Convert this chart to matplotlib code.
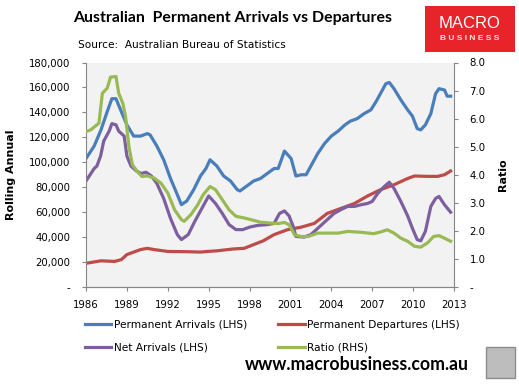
import matplotlib.pyplot as plt
from matplotlib.lines import Line2D
from matplotlib.patches import Rectangle
from matplotlib.ticker import FuncFormatter

# ---- data ----
arr_years = [1986.0, 1986.6, 1987.1, 1987.6, 1987.9, 1988.2, 1988.5, 1989.0, 1989.5,
             1990.0, 1990.5, 1990.7, 1991.2, 1991.7, 1992.2, 1992.7, 1993.0, 1993.4,
             1993.9, 1994.4, 1994.8, 1995.1, 1995.6, 1996.1, 1996.6, 1997.1, 1997.3,
             1997.8, 1998.3, 1998.8, 1999.3, 1999.8, 2000.1, 2000.3, 2000.56, 2000.8,
             2001.05, 2001.4, 2001.8, 2002.15, 2002.5, 2003.0, 2003.5, 2004.0, 2004.5,
             2005.0, 2005.4, 2005.9, 2006.4, 2006.9, 2007.3, 2007.6, 2008.0, 2008.25,
             2008.6, 2009.1, 2009.6, 2009.95, 2010.3, 2010.56, 2010.9, 2011.3, 2011.65,
             2011.9, 2012.3, 2012.5, 2012.75]
arrivals = [103, 113, 126, 142, 151, 151, 143, 130, 121,
            121, 123, 122, 113, 102, 87, 74, 66, 69,
            78, 89, 95, 102, 97, 89, 85, 78, 77,
            81, 85, 87, 91, 95, 95, 101, 109, 106,
            103, 89, 90, 90, 97, 107, 115, 121, 125,
            130, 133, 135, 139, 142, 149, 155, 163, 164,
            159, 150, 142, 137, 127, 126, 130, 139, 155,
            159, 158, 153, 153]

dep_years = [1986.0, 1987.1, 1988.1, 1988.6, 1989.0, 1990.0, 1990.5, 1991.0, 1992.0,
             1993.4, 1994.4, 1994.9, 1995.6, 1996.8, 1997.6, 1998.3, 1999.0, 1999.8,
             2000.8, 2001.8, 2002.75, 2003.7, 2004.7, 2005.7, 2006.66, 2007.6, 2008.6,
             2009.6, 2010.1, 2011.05, 2011.8, 2012.3, 2012.75]
departures = [19, 21, 20.5, 22, 26, 30, 31, 30, 28.5,
              28.3, 28, 28.5, 29, 30.5, 31, 34, 37, 42,
              46, 48, 51, 59, 63, 67, 73, 78, 82,
              87, 89, 88.7, 88.7, 90, 93]

net_years = [1986.0, 1986.6, 1986.8, 1987.07, 1987.3, 1987.7, 1987.9, 1988.2, 1988.4,
             1988.8, 1989.0, 1989.3, 1989.7, 1990.05, 1990.4, 1990.8, 1991.2, 1991.7,
             1992.2, 1992.7, 1993.0, 1993.5, 1994.0, 1994.5, 1995.0, 1995.5, 1996.0,
             1996.5, 1997.0, 1997.5, 1998.0, 1998.6, 1999.3, 1999.8, 2000.2, 2000.56,
             2000.9, 2001.2, 2001.4, 2002.0, 2002.5, 2003.0, 2003.7, 2004.2, 2004.7,
             2005.2, 2005.7, 2006.2, 2006.66, 2007.0, 2007.4, 2007.9, 2008.25, 2008.6,
             2009.1, 2009.6, 2009.95, 2010.3, 2010.56, 2010.9, 2011.3, 2011.65, 2011.9,
             2012.3, 2012.6, 2012.75]
net = [85, 95, 97, 105, 117, 125, 131, 130, 125,
       121, 105, 97, 93, 91, 92, 89, 83, 71,
       55, 42, 38, 42, 53, 63, 73, 67, 59,
       50, 46, 46, 48, 49.4, 50, 51, 59, 61,
       57, 48.6, 40.6, 40, 42, 47, 54, 59, 62,
       64.6, 64.6, 66, 67, 68.6, 75, 80.7, 84, 79,
       68.6, 57, 47, 38, 37, 44.6, 64.6, 71, 72.6,
       66, 62, 60]

ratio_years = [1986.0, 1986.35, 1986.7, 1986.95, 1987.2, 1987.56, 1987.8, 1988.2, 1988.4,
               1988.7, 1988.9, 1989.15, 1989.4, 1989.75, 1990.1, 1990.5, 1991.0, 1991.5,
               1992.0, 1992.5, 1993.0, 1993.2, 1993.7, 1994.2, 1994.6, 1995.1, 1995.5,
               1996.0, 1996.5, 1997.0, 1997.6, 1998.1, 1998.8, 1999.5, 2000.1, 2000.56,
               2000.9, 2001.3, 2001.8, 2002.3, 2003.0, 2003.7, 2004.5, 2005.2, 2006.2,
               2007.1, 2007.6, 2008.1, 2008.6, 2009.1, 2009.6, 2010.1, 2010.56, 2011.05,
               2011.5, 2011.9, 2012.3, 2012.75]
ratio = [5.54, 5.6, 5.74, 5.84, 6.9, 7.09, 7.48, 7.5, 6.9,
         6.55, 6.08, 5.0, 4.36, 4.12, 3.94, 3.96, 3.88, 3.70,
         3.35, 2.75, 2.40, 2.34, 2.58, 2.93, 3.29, 3.58, 3.47,
         3.11, 2.75, 2.52, 2.46, 2.40, 2.31, 2.28, 2.26, 2.30,
         2.22, 1.86, 1.80, 1.80, 1.92, 1.92, 1.92, 1.98, 1.95,
         1.90, 1.96, 2.04, 1.92, 1.74, 1.63, 1.45, 1.42, 1.57,
         1.80, 1.83, 1.74, 1.63]

series_labels = ['Permanent Arrivals (LHS)', 'Permanent Departures (LHS)',
                 'Net Arrivals (LHS)', 'Ratio (RHS)']
year_ticks = list(range(1986, 2014, 3))

BLUE, RED, PURPLE, GREEN = '#4A7EBB', '#BE4B48', '#7D5FA0', '#98B954'
GREY = '#868686'

fig = plt.figure(figsize=(5.19, 3.85), dpi=100)
ax = fig.add_axes([86 / 519, 1 - 287 / 385, 368 / 519, 224.5 / 385])
ax2 = ax.twinx()

ax.set_facecolor('#F2F2F2')
lw = 2.3
ax.plot(arr_years, [v * 1000 for v in arrivals], color=BLUE, lw=lw)
ax.plot(dep_years, [v * 1000 for v in departures], color=RED, lw=lw)
ax.plot(net_years, [v * 1000 for v in net], color=PURPLE, lw=lw)
ax2.plot(ratio_years, ratio, color=GREEN, lw=lw)

ax.set_xlim(1986, 2013)
ax.set_ylim(0, 180000)
ax2.set_ylim(0, 8)
ax.set_xticks(year_ticks)
ax.set_yticks(range(0, 180001, 20000))
ax2.set_yticks([i for i in range(0, 9)])

ax.yaxis.set_major_formatter(FuncFormatter(lambda v, p: '-' if v == 0 else f'{v:,.0f}'))
ax2.yaxis.set_major_formatter(FuncFormatter(lambda v, p: '-' if v == 0 else f'{v:.1f}'))

for a in (ax, ax2):
    a.spines['top'].set_visible(False)
    for s in ('left', 'right', 'bottom'):
        a.spines[s].set_color(GREY)
    a.tick_params(axis='both', colors=GREY, labelcolor='black', labelsize=7.3,
                  length=3.2, width=0.8, direction='out')
    a.tick_params(axis='y', pad=8)
ax.tick_params(axis='x', pad=6)
ax.spines['right'].set_visible(False)
ax2.spines['left'].set_visible(False)

ax.set_ylabel('Rolling Annual', fontsize=8, fontweight='bold', labelpad=9)
ax2.set_ylabel('Ratio', fontsize=8, fontweight='bold', labelpad=9)

# titles
fig.text(233 / 519, 1 - 18 / 385, 'Australian  Permanent Arrivals vs Departures',
         ha='center', va='center', fontsize=11.4, fontweight='bold', family='Lato')
fig.text(78 / 519, 1 - 45 / 385, 'Source:  Australian Bureau of Statistics',
         ha='left', va='center', fontsize=7.6)

# logo
fig.patches.append(Rectangle((425 / 519, 1 - 52 / 385), 90 / 519, 46 / 385,
                             transform=fig.transFigure, facecolor='#E8232A',
                             edgecolor='none'))
fig.text(470 / 519, 1 - 23 / 385, 'MACRO', ha='center', va='center', color='white',
         fontsize=12, family='Liberation Sans')
fig.text(470 / 519, 1 - 38 / 385, 'B U S I N E S S', ha='center', va='center',
         color='#FDE3E3', fontsize=6, fontweight='bold', family='Liberation Sans')

# legend
handles = [Line2D([], [], color=c, lw=2.3) for c in (BLUE, RED, PURPLE, GREEN)]
fig.legend([handles[0], handles[2], handles[1], handles[3]],
           [series_labels[0], series_labels[2], series_labels[1], series_labels[3]],
           ncol=2, frameon=False, loc='upper left',
           bbox_to_anchor=(75 / 519, 1 - 310 / 385), fontsize=7.6,
           handlelength=2.5, handletextpad=0.25, columnspacing=3.0, labelspacing=1.25)

fig.text(357 / 519, 1 - 365 / 385, 'www.macrobusiness.com.au', ha='center', va='center',
         fontsize=12.7, fontweight='bold', family='Lato')

# wolf badge
fig.patches.append(Rectangle((486 / 519, 1 - 378 / 385), 29 / 519, 31 / 385,
                             transform=fig.transFigure, facecolor='#BDBDBD',
                             edgecolor='#8C8C8C', lw=1))

fig.savefig('out.png', dpi=100)
